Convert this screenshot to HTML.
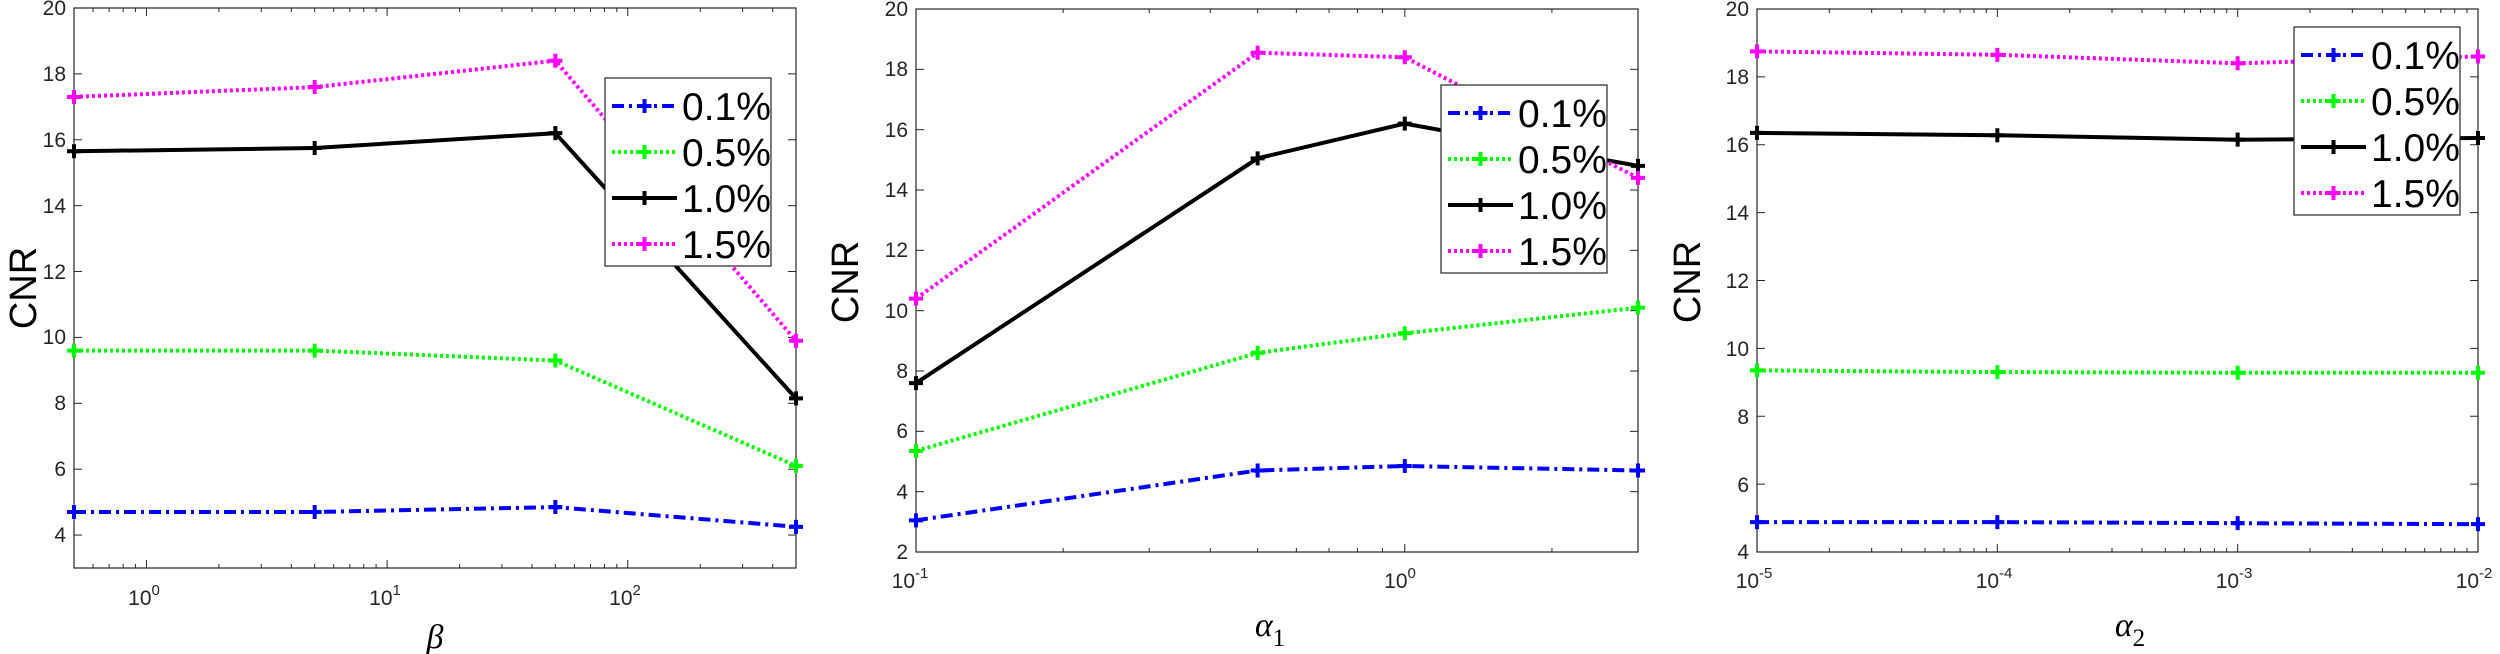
<!DOCTYPE html>
<html><head><meta charset="utf-8"><style>
html,body{margin:0;padding:0;background:#fff;}
svg{display:block;font-family:"Liberation Sans",sans-serif;}
.tk{font-size:21px;fill:#262626;}
.lg{font-size:39px;fill:#000;}
.cnr{font-size:38px;fill:#000;}
</style></head><body>
<svg id="s" width="2500" height="654" viewBox="0 0 2500 654" xmlns="http://www.w3.org/2000/svg">
<g id="g"></g>
<!-- Panel 1 text -->
<g class="tk" text-anchor="end">
<text x="66" y="15">20</text><text x="66" y="81">18</text><text x="66" y="147">16</text><text x="66" y="213">14</text><text x="66" y="279">12</text><text x="66" y="344">10</text><text x="66" y="410">8</text><text x="66" y="476">6</text><text x="66" y="542">4</text>
</g>
<g class="tk" text-anchor="middle">
<text x="144" y="605">10<tspan dy="-10" font-size="15">0</tspan></text>
<text x="385" y="605">10<tspan dy="-10" font-size="15">1</tspan></text>
<text x="625" y="605">10<tspan dy="-10" font-size="15">2</tspan></text>
</g>
<text class="cnr" transform="translate(36,288) rotate(-90)" text-anchor="middle">CNR</text>
<text x="435" y="648" font-family="Liberation Serif" font-style="italic" font-size="34" text-anchor="middle">β</text>

<!-- Panel 2 text -->
<g class="tk" text-anchor="end">
<text x="908" y="16">20</text><text x="908" y="76">18</text><text x="908" y="137">16</text><text x="908" y="197">14</text><text x="908" y="257">12</text><text x="908" y="318">10</text><text x="908" y="378">8</text><text x="908" y="438">6</text><text x="908" y="499">4</text><text x="908" y="559">2</text>
</g>
<g class="tk" text-anchor="middle">
<text x="910" y="588">10<tspan dy="-10" font-size="15">-1</tspan></text>
<text x="1400" y="588">10<tspan dy="-10" font-size="15">0</tspan></text>
</g>
<text class="cnr" transform="translate(858,282) rotate(-90)" text-anchor="middle">CNR</text>
<text x="1270" y="636" font-family="Liberation Serif" font-style="italic" font-size="34" text-anchor="middle">α<tspan dy="10" font-style="normal" font-size="25">1</tspan></text>

<!-- Panel 3 text -->
<g class="tk" text-anchor="end">
<text x="1749" y="16">20</text><text x="1749" y="84">18</text><text x="1749" y="152">16</text><text x="1749" y="220">14</text><text x="1749" y="288">12</text><text x="1749" y="356">10</text><text x="1749" y="424">8</text><text x="1749" y="492">6</text><text x="1749" y="559">4</text>
</g>
<g class="tk" text-anchor="middle">
<text x="1754" y="588">10<tspan dy="-10" font-size="15">-5</tspan></text>
<text x="1994" y="588">10<tspan dy="-10" font-size="15">-4</tspan></text>
<text x="2234" y="588">10<tspan dy="-10" font-size="15">-3</tspan></text>
<text x="2474" y="588">10<tspan dy="-10" font-size="15">-2</tspan></text>
</g>
<text class="cnr" transform="translate(1700,282) rotate(-90)" text-anchor="middle">CNR</text>
<text x="2130" y="636" font-family="Liberation Serif" font-style="italic" font-size="34" text-anchor="middle">α<tspan dy="10" font-style="normal" font-size="25">2</tspan></text>

<g id="leg"></g>
<g class="lg">
<text x="682" y="120">0.1%</text><text x="682" y="166">0.5%</text><text x="682" y="212">1.0%</text><text x="682" y="258">1.5%</text>
<text x="1518" y="127">0.1%</text><text x="1518" y="173">0.5%</text><text x="1518" y="219">1.0%</text><text x="1518" y="265">1.5%</text>
<text x="2371" y="69">0.1%</text><text x="2371" y="115">0.5%</text><text x="2371" y="161">1.0%</text><text x="2371" y="207">1.5%</text>
</g>
</svg>
<script>
var NS="http://www.w3.org/2000/svg",g=document.getElementById('g'),lg=document.getElementById('leg');
function el(p,t,a){var e=document.createElementNS(NS,t);for(var k in a)e.setAttribute(k,a[k]);p.appendChild(e);return e;}
var styles=[
 {c:"#0000ff",d:"12,5,3,5"},
 {c:"#00ff00",d:"3,3"},
 {c:"#000000",d:""},
 {c:"#ff00ff",d:"3,3"}];
var panels=[
 {L:74,R:796,T:8,B:568,ymin:3,ymax:20,lx0:Math.log10(0.5),lx1:Math.log10(500),xs:[0.5,5,50,500],yt:[4,6,8,10,12,14,16,18,20],
  data:[[4.7,4.7,4.85,4.25],[9.6,9.6,9.3,6.1],[15.65,15.75,16.2,8.15],[17.3,17.6,18.4,9.9]],leg:[605,78,771,266]},
 {L:916,R:1638,T:9,B:552,ymin:2,ymax:20,lx0:-1,lx1:Math.log10(3),xs:[0.1,0.5,1,3],yt:[2,4,6,8,10,12,14,16,18,20],
  data:[[3.05,4.7,4.85,4.7],[5.35,8.6,9.25,10.1],[7.6,15.05,16.2,14.8],[10.4,18.55,18.4,14.4]],leg:[1441,85,1607,273]},
 {L:1757,R:2478,T:9,B:552,ymin:4,ymax:20,lx0:-5,lx1:-2,xs:[1e-5,1e-4,1e-3,1e-2],yt:[4,6,8,10,12,14,16,18,20],
  data:[[4.88,4.88,4.85,4.82],[9.35,9.3,9.28,9.28],[16.35,16.28,16.15,16.2],[18.75,18.65,18.4,18.6]],leg:[2294,27,2460,215]}];
panels.forEach(function(p){
 function X(v){return p.L+(Math.log10(v)-p.lx0)/(p.lx1-p.lx0)*(p.R-p.L);}
 function Y(v){return p.B-(v-p.ymin)/(p.ymax-p.ymin)*(p.B-p.T);}
 el(g,'rect',{x:p.L,y:p.T,width:p.R-p.L,height:p.B-p.T,fill:'#fff',stroke:'#262626','stroke-width':1.2});
 p.yt.forEach(function(v){var y=Y(v);el(g,'line',{x1:p.L,x2:p.L+8,y1:y,y2:y,stroke:'#262626'});el(g,'line',{x1:p.R,x2:p.R-8,y1:y,y2:y,stroke:'#262626'});});
 for(var e=Math.floor(p.lx0);e<=Math.ceil(p.lx1);e++){for(var m=1;m<10;m++){var v=m*Math.pow(10,e),lv=Math.log10(v);if(lv<p.lx0-1e-9||lv>p.lx1+1e-9)continue;var x=X(v),len=(m==1?8:4);
  el(g,'line',{x1:x,x2:x,y1:p.B,y2:p.B-len,stroke:'#262626'});el(g,'line',{x1:x,x2:x,y1:p.T,y2:p.T+len,stroke:'#262626'});}}
 p.data.forEach(function(ser,i){var s=styles[i];
  var pts=ser.map(function(v,j){return X(p.xs[j]).toFixed(1)+','+Y(v).toFixed(1);}).join(' ');
  var a={points:pts,fill:'none',stroke:s.c,'stroke-width':4};if(s.d)a['stroke-dasharray']=s.d;el(g,'polyline',a);
  ser.forEach(function(v,j){var x=X(p.xs[j]),y=Y(v);el(g,'path',{d:'M'+(x-7)+','+y+'H'+(x+7)+'M'+x+','+(y-7)+'V'+(y+7),stroke:s.c,'stroke-width':4});});
 });
 var L=p.leg;el(lg,'rect',{x:L[0],y:L[1],width:L[2]-L[0],height:L[3]-L[1],fill:'#fff',stroke:'#262626','stroke-width':1.2});
 for(var i=0;i<4;i++){var s=styles[i],y=L[1]+28+46*i,x0=L[0]+7,x1=L[0]+72;
  var a={x1:x0,x2:x1,y1:y,y2:y,stroke:s.c,'stroke-width':4};if(s.d)a['stroke-dasharray']=s.d;el(lg,'line',a);
  var xm=(x0+x1)/2;el(lg,'path',{d:'M'+(xm-7)+','+y+'H'+(xm+7)+'M'+xm+','+(y-7)+'V'+(y+7),stroke:s.c,'stroke-width':4});}
});
</script>
</body></html>
